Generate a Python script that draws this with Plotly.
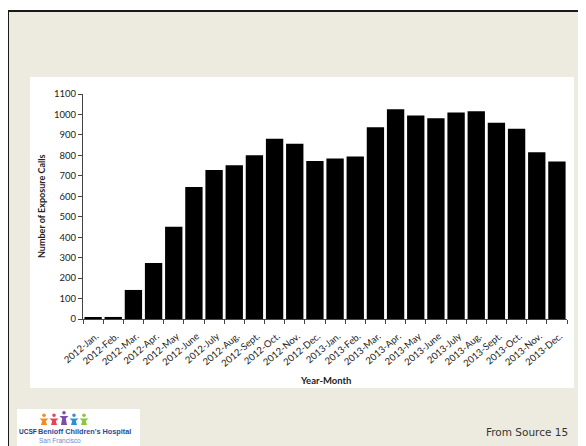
import plotly.graph_objects as go

months = ["Jan.", "Feb.", "Mar.", "Apr.", "May", "June", "July", "Aug.", "Sept.", "Oct.", "Nov.", "Dec."]
categories = [f"{y}-{m}" for y in (2012, 2013) for m in months]
calls = [5, 10, 142, 274, 451, 645, 728, 752, 800, 881, 857, 772,
         785, 795, 938, 1025, 995, 982, 1010, 1016, 959, 930, 815, 770]
y_ticks = list(range(0, 1101, 100))

OFF = 8  # page body margin
W, H = 586 - OFF, 446 - OFF
L, R, T, B = 83 - OFF, 567 - OFF, 94 - OFF, 319 - OFF  # plot area in figure pixels


def px(x):
    """screen x pixel -> paper x"""
    return (x - OFF - L) / (R - L)


def py(y):
    """screen y pixel -> paper y"""
    return (B - (y - OFF)) / (B - T)


fig = go.Figure(go.Bar(
    x=categories, y=calls,
    marker=dict(color="#000000", line=dict(width=0)),
))

shapes = []
shapes.append(dict(type="rect", xref="paper", yref="paper", x0=px(8), x1=px(600),
                   y0=py(460), y1=py(11), fillcolor="#EDEBE0", line=dict(width=0), layer="below"))
shapes.append(dict(type="line", xref="paper", yref="paper", x0=px(7), x1=px(600),
                   y0=py(11), y1=py(11), line=dict(color="#1a1a1a", width=2), layer="below"))
shapes.append(dict(type="line", xref="paper", yref="paper", x0=px(8), x1=px(8),
                   y0=py(11), y1=py(460), line=dict(color="#1a1a1a", width=2), layer="below"))
shapes.append(dict(type="rect", xref="paper", yref="paper", x0=px(30), x1=px(574),
                   y0=py(388), y1=py(77), fillcolor="#FFFFFF", line=dict(width=0), layer="below"))
shapes.append(dict(type="rect", xref="paper", yref="paper", x0=px(17), x1=px(140),
                   y0=py(450), y1=py(409), fillcolor="#FFFFFF", line=dict(width=0), layer="below"))
people = [(44, "#F28C28"), (54, "#E8415A"), (64, "#7B4FA8"), (74, "#2F8FD0"), (84, "#8DC63F")]
for i, (cx, col) in enumerate(people):
    top = 411 if i == 2 else 413.5
    shapes.append(dict(type="circle", xref="paper", yref="paper", x0=px(cx - 1.8), x1=px(cx + 1.8),
                       y0=py(top + 3.6), y1=py(top), fillcolor=col, line=dict(width=0)))
    shapes.append(dict(type="path", xref="paper", yref="paper",
                       path=(f"M {px(cx - 4.5)},{py(top + 5)} L {px(cx + 4.5)},{py(top + 5)} "
                             f"L {px(cx + 1.8)},{py(top + 7.5)} L {px(cx + 3)},{py(425)} "
                             f"L {px(cx - 3)},{py(425)} L {px(cx - 1.8)},{py(top + 7.5)} Z"),
                       fillcolor=col, line=dict(width=0)))

annotations = [
    dict(text="<b>Number of Exposure Calls</b>", xref="paper", yref="paper", x=px(41), y=py(207),
         textangle=-90, showarrow=False, font=dict(size=9, color="#222", family="Lato"),
         xanchor="center", yanchor="middle"),
    dict(text="<b>Year-Month</b>", xref="paper", yref="paper", x=px(325), y=py(380),
         showarrow=False, font=dict(size=9.5, color="#222", family="Lato"),
         xanchor="center", yanchor="middle"),
    dict(text="From Source 15", xref="paper", yref="paper", x=px(570), y=py(432),
         showarrow=False, font=dict(size=10.5, color="#333", family="DejaVu Sans"),
         xanchor="right", yanchor="middle"),
    dict(text="<b>UCSF</b>", xref="paper", yref="paper", x=px(17), y=py(431),
         showarrow=False, font=dict(size=6.5, color="#1F3A7A", family="Liberation Sans"),
         xanchor="left", yanchor="middle"),
    dict(text="<b>Benioff Children's Hospital</b>", xref="paper", yref="paper", x=px(36), y=py(431),
         showarrow=False, font=dict(size=7.3, color="#2A4A9A", family="Liberation Sans"),
         xanchor="left", yanchor="middle"),
    dict(text="San Francisco", xref="paper", yref="paper", x=px(37), y=py(440.5),
         showarrow=False, font=dict(size=6.5, color="#6F8CC8", family="Liberation Sans"),
         xanchor="left", yanchor="middle"),
]

fig.update_layout(
    width=W, height=H, autosize=False,
    margin=dict(l=L, r=W - R, t=T, b=H - B, pad=0),
    paper_bgcolor="#FFFFFF", plot_bgcolor="rgba(0,0,0,0)",
    bargap=0.14, showlegend=False,
    shapes=shapes, annotations=annotations,
    font=dict(family="Lato", color="#222"),
)
fig.update_xaxes(
    type="category", tickangle=-40, tickfont=dict(size=9.5, family="Lato", color="#222"),
    ticklabelstandoff=7, ticklabelshift=3,
    showline=True, linecolor="#444", linewidth=1, ticks="outside", tickson="boundaries",
    ticklen=4, tickcolor="#444", showgrid=False, zeroline=False,
)
fig.update_yaxes(
    range=[0, 1100], tickvals=y_ticks, tickfont=dict(size=9.5, family="Lato", color="#222"),
    showline=True, linecolor="#444", linewidth=1, ticks="outside", ticklen=4, tickcolor="#444",
    showgrid=False, zeroline=False,
)

fig.write_html("out.html")
